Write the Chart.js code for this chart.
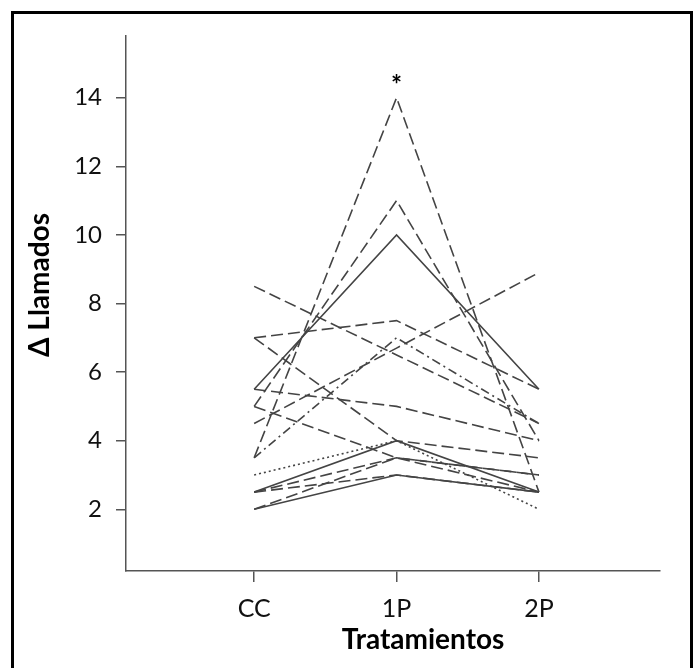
<!DOCTYPE html>
<html>
<head>
<meta charset="utf-8">
<script src="https://cdn.jsdelivr.net/npm/chart.js@4/dist/chart.umd.min.js"></script>
<style>
  body { margin:0; background:#fff; }
  #wrap { position:relative; width:698px; height:668px; overflow:hidden; }
  #frame { position:absolute; left:11px; top:11px; width:676px; height:700px; border:3px solid #000; pointer-events:none; }
</style>
</head>
<body>
<div id="wrap">
  <canvas id="myChart" width="698" height="668"></canvas>
  <div id="frame"></div>
</div>
<script>
// categories and y ticks
var categories = ['CC', '1P', '2P'];
var yTicks = [2, 4, 6, 8, 10, 12, 14];

// one small array per individual: values at CC, 1P, 2P
var s1  = [3.5, 14,  2.5];
var s2  = [5,   11,  4];
var s3  = [5.5, 10,  5.5];
var s4  = [7,   7.5, 5.5];
var s5  = [8.5, 6.5, 4.5];
var s6  = [4.5, 6.7, 8.9];
var s7  = [3.5, 7,   4.5];
var s8  = [5.5, 5,   4];
var s9  = [7,   4,   3.5];
var s10 = [5,   3.5, 3];
var s11 = [3,   4,   2];
var s12 = [2.5, 3.5, 3];
var s13 = [2.5, 4,   2.5];
var s14 = [2,   3,   2.5];
var s15 = [2,   3.5, 2.5];
var s16 = [2.5, 3,   2.5];

var dashLong = [12, 5];
var dashDot = [9, 4, 2, 4];
var dotted = [2, 3];
var solid = [];

var series = [s1, s2, s3, s4, s5, s6, s7, s8, s9, s10, s11, s12, s13, s14, s15, s16];
var styles = [dashLong, dashLong, solid, dashLong, dashLong, dashLong, dashDot, dashLong,
              dashLong, dashLong, dotted, dashLong, solid, solid, dashLong, dashLong];

function toPoints(arr){
    return arr.map(function(v, i){ return {x: i + 1, y: v}; });
}

var datasets = series.map(function(s, i){
    return {
        data: toPoints(s),
        borderColor: '#444',
        borderWidth: 1.6,
        borderDash: styles[i],
        pointRadius: 0,
        fill: false,
        tension: 0
    };
});

// titles and the asterisk over the 1P peak
var extraText = {
    id: 'extraText',
    afterDraw: function(chart){
        var ctx = chart.ctx;
        var xs = chart.scales.x, ys = chart.scales.y;
        ctx.save();
        ctx.fillStyle = '#000';
        ctx.textAlign = 'center';
        ctx.textBaseline = 'middle';
        ctx.font = 'bold 26px Lato';
        ctx.fillText('*', xs.getPixelForValue(2), ys.getPixelForValue(14) - 12);
        ctx.font = 'bold 28px Lato';
        ctx.fillText('Tratamientos', 423, 640);
        ctx.translate(40, 285);
        ctx.rotate(-Math.PI / 2);
        ctx.fillText('\u0394 Llamados', 0, 0);
        ctx.restore();
    }
};

var ctx = document.getElementById('myChart').getContext('2d');
var myChart = new Chart(ctx, {
    type: 'line',
    data: { datasets: datasets },
    options: {
        responsive: false,
        animation: false,
        layout: { padding: { left: 0, top: 36, right: 38, bottom: 0 } },
        plugins: { legend: { display: false }, tooltip: { enabled: false } },
        scales: {
            x: {
                type: 'linear',
                min: 0.1,
                max: 3.85,
                afterBuildTicks: function(axis){
                    axis.ticks = categories.map(function(c, i){ return {value: i + 1}; });
                },
                afterFit: function(axis){ axis.height = 97; },
                ticks: {
                    callback: function(v){ return categories[v - 1]; },
                    color: '#111',
                    font: { family: 'Lato', size: 25 },
                    padding: 12,
                    maxRotation: 0
                },
                grid: { drawOnChartArea: false, drawTicks: true, tickLength: 11, color: '#555', lineWidth: 1.5 },
                border: { display: true, color: '#555', width: 1.5 }
            },
            y: {
                min: 0.2,
                max: 15.8,
                afterBuildTicks: function(axis){
                    axis.ticks = yTicks.map(function(v){ return {value: v}; });
                },
                afterFit: function(axis){ axis.width = 126; },
                ticks: {
                    color: '#111',
                    font: { family: 'Lato', size: 24 },
                    padding: 14
                },
                grid: { drawOnChartArea: false, drawTicks: true, tickLength: 10, color: '#555', lineWidth: 1.5 },
                border: { display: true, color: '#555', width: 1.5 }
            }
        }
    },
    plugins: [extraText]
});
</script>
</body>
</html>
